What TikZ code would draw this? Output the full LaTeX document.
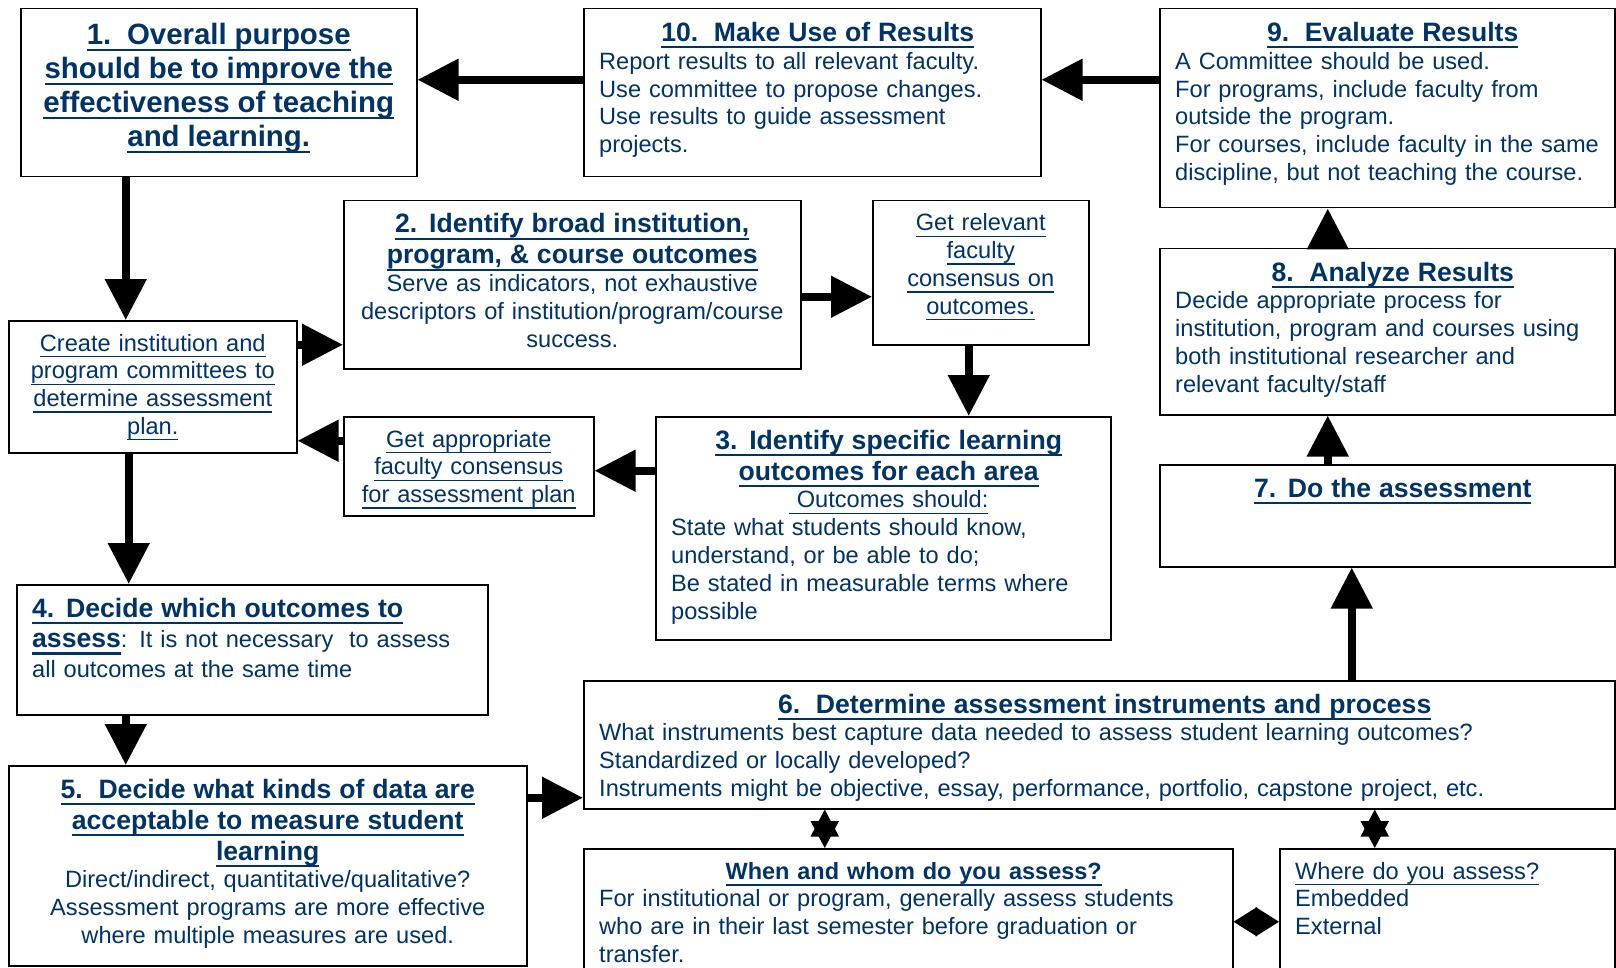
\documentclass[tikz,border=0pt]{standalone}
\usepackage{fontspec}
\setmainfont{Liberation Sans}
\usetikzlibrary{arrows.meta, positioning}
\definecolor{navy}{RGB}{0,51,102}
\newcommand{\hd}{\fontsize{26.6}{31}\selectfont\bfseries}
\newcommand{\hdbig}{\fontsize{29.4}{34}\selectfont\bfseries}
\newcommand{\hdsmall}{\fontsize{23.5}{27.8}\selectfont\bfseries}
% underlined text: depth, thickness, text
\newcommand{\undl}[3]{\leavevmode\setbox0=\hbox{#3}\rlap{\rule[-#1]{\wd0}{#2}}\box0}
\newcommand{\hu}[1]{\undl{6.8pt}{2.2pt}{#1}}
\newcommand{\bu}[1]{\undl{6pt}{1.3pt}{#1}}
\tikzstyle{box} = [draw, line width=1.5pt, rectangle, anchor=north west, inner sep=0pt]
\tikzstyle{txt} = [inner sep=0pt, anchor=base, align=center, text=navy, font=\fontsize{23.6}{27.8}\selectfont]
\tikzstyle{ltxt} = [txt, anchor=base west, align=left]
\tikzstyle{bigarrow} = [line width=8pt, -{Triangle[length=41pt,width=40pt]}]
\tikzstyle{twoway} = [line width=2pt, {Triangle[length=27pt,width=28pt]}-{Triangle[length=27pt,width=28pt]}]
\tikzstyle{sideway} = [line width=2pt, {Triangle[length=23.5pt,width=29pt]}-{Triangle[length=23.5pt,width=29pt]}]

\begin{document}
\begin{tikzpicture}[x=1pt, y=1pt]
    \fill[white] (0,0) rectangle (1616,-968);
    \useasboundingbox (0,0) rectangle (1616,-968);
    % boxes
    \node[box, minimum width=396pt, minimum height=168pt] (b1) at (20,-8) {};
    \node[box, minimum width=457pt, minimum height=168pt] (b10) at (583,-8) {};
    \node[box, minimum width=455pt, minimum height=199pt] (b9) at (1159,-8) {};
    \node[box, minimum width=457pt, minimum height=168pt] (b2) at (343,-200) {};
    \node[box, minimum width=216pt, minimum height=144pt] (rel) at (872,-200) {};
    \node[box, minimum width=455pt, minimum height=166pt] (b8) at (1159,-248) {};
    \node[box, minimum width=288pt, minimum height=132pt] (crt) at (8,-320) {};
    \node[box, minimum width=250pt, minimum height=99pt] (appr) at (343,-416) {};
    \node[box, minimum width=455pt, minimum height=223pt] (b3) at (655,-416) {};
    \node[box, minimum width=455pt, minimum height=102pt] (b7) at (1159,-464) {};
    \node[box, minimum width=471pt, minimum height=130pt] (b4) at (16,-584) {};
    \node[box, minimum width=1031pt, minimum height=128pt] (b6) at (583,-680) {};
    \node[box, minimum width=518pt, minimum height=200pt] (b5) at (8,-765) {};
    \node[box, minimum width=649pt, minimum height=140pt] (when) at (583,-848) {};
    \node[box, minimum width=335pt, minimum height=140pt] (where) at (1279,-848) {};
    % texts
    \node[txt, text width=380pt] (t1) at ([yshift=-36.5pt]b1.north)
        {\hdbig \hu{1.\ \ Overall purpose}\\ \hu{should be to improve the}\\
         \hu{effectiveness of teaching}\\ \hu{and learning.}\par};
    \node[ltxt, text width=437pt] (t10) at ([xshift=16pt, yshift=-33.5pt]b10.north west)
        {{\centering\hd \hu{10.\ \ Make Use of Results}\par}
         Report results to all relevant faculty.\\ Use committee to propose changes.\\
         Use results to guide assessment\\ projects.};
    \node[ltxt, text width=435pt] (t9) at ([xshift=16pt, yshift=-33.5pt]b9.north west)
        {{\centering\hd \hu{9.\ \ Evaluate Results}\par}
         A Committee should be used.\\ For programs, include faculty from\\
         outside the program.\\ For courses, include faculty in the same\\
         discipline, but not teaching the course.};
    \node[txt, text width=441pt] (t2) at ([yshift=-33pt]b2.north)
        {{\hd \hu{2. Identify broad institution,}\\ \hu{program, \& course outcomes}\par}
         Serve as indicators, not exhaustive\\ descriptors of institution/program/course\\ success.};
    \node[txt, text width=200pt] (trel) at ([yshift=-31pt]rel.north)
        {\bu{Get relevant}\\ \bu{faculty}\\ \bu{consensus on}\\ \bu{outcomes.}};
    \node[ltxt, text width=435pt] (t8) at ([xshift=16pt, yshift=-33pt]b8.north west)
        {{\centering\hd \hu{8.\ \ Analyze Results}\par}
         Decide appropriate process for\\ institution, program and courses using\\
         both institutional researcher and\\ relevant faculty/staff};
    \node[txt, text width=272pt] (tcrt) at ([yshift=-31pt]crt.north)
        {\bu{Create institution and}\\ \bu{program committees to}\\ \bu{determine assessment}\\ \bu{plan.}};
    \node[txt, text width=234pt] (tappr) at ([yshift=-31pt]appr.north)
        {\bu{Get appropriate}\\ \bu{faculty consensus}\\ \bu{for assessment plan}};
    \node[ltxt, text width=435pt] (t3) at ([xshift=16pt, yshift=-33pt]b3.north west)
        {{\centering\hd \hu{3. Identify specific learning}\\ \hu{outcomes for each area}\par}
         {\centering\bu{\ Outcomes should:}\par}
         State what students should know,\\ understand, or be able to do;\\
         Be stated in measurable terms where\\ possible};
    \node[ltxt, text width=435pt] (t7) at ([xshift=16pt, yshift=-33pt]b7.north west)
        {{\centering\hd \hu{7. Do the assessment}\par}};
    \node[ltxt, text width=451pt] (t4) at ([xshift=16pt, yshift=-33pt]b4.north west)
        {{\hd\hu{4. Decide which outcomes to}}\\[3pt]
         {\hd\hu{assess}}: It is not necessary\ \ to assess\\[1.5pt] all outcomes at the same time};
    \node[ltxt, text width=1011pt] (t6) at ([xshift=16pt, yshift=-33pt]b6.north west)
        {{\centering\hd \hu{6.\ \ Determine assessment instruments and process}\par}
         What instruments best capture data needed to assess student learning outcomes?\\
         Standardized or locally developed?\\
         Instruments might be objective, essay, performance, portfolio, capstone project, etc.};
    \node[txt, text width=502pt] (t5) at ([yshift=-33pt]b5.north)
        {{\hd \hu{5.\ \ Decide what kinds of data are}\\ \hu{acceptable to measure student}\\ \hu{learning}\par}
         Direct/indirect, quantitative/qualitative?\\ Assessment programs are more effective\\
         where multiple measures are used.};
    \node[ltxt, text width=629pt] (twhen) at ([xshift=16pt, yshift=-31pt]when.north west)
        {{\centering\hdsmall \hu{When and whom do you assess?}\par}
         For institutional or program, generally assess students\\
         who are in their last semester before graduation or\\ transfer.};
    \node[ltxt, text width=315pt] (twhere) at ([xshift=16pt, yshift=-31pt]where.north west)
        {\bu{Where do you assess?}\\ Embedded\\ External};
    % connectors
    \draw[bigarrow] ([yshift=13pt]b10.west) -- ([yshift=13pt]b1.east);
    \draw[bigarrow] ([yshift=28.5pt]b9.west) -- ([yshift=13pt]b10.east);
    \draw[bigarrow] ([xshift=-93pt]b1.south) -- ([xshift=-27pt]crt.north);
    \draw[bigarrow] ([yshift=42pt]crt.east) -- ([yshift=-60pt]b2.west);
    \draw[bigarrow] ([yshift=-12pt]b2.east) -- ([yshift=-24pt]rel.west);
    \draw[bigarrow] ([xshift=-12pt]rel.south) -- ([xshift=85.5pt]b3.north);
    \draw[bigarrow] ([yshift=57.5pt]b3.west) -- ([yshift=-4.5pt]appr.east);
    \draw[bigarrow] ([yshift=25.5pt]appr.west) -- ([yshift=-54pt]crt.east);
    \draw[bigarrow] ([xshift=-24pt]crt.south) -- ([xshift=-123.5pt]b4.north);
    \draw[bigarrow] ([xshift=-126.5pt]b4.south) -- ([xshift=-142pt]b5.north);
    \draw[bigarrow] ([yshift=68pt]b5.east) -- ([yshift=-53pt]b6.west);
    \draw[bigarrow] ([xshift=252.5pt]b6.north) -- ([xshift=-35.5pt]b7.south);
    \draw[bigarrow] ([xshift=-59.5pt]b7.north) -- ([xshift=-59.5pt]b8.south);
    \draw[bigarrow] ([xshift=-59.5pt]b8.north) -- ([xshift=-59.5pt]b9.south);
    \draw[twoway] ([xshift=-274.5pt]b6.south) -- ([xshift=-83.5pt]when.north);
    \draw[twoway] ([xshift=275.5pt]b6.south) -- ([xshift=-72.5pt]where.north);
    \draw[sideway] ([yshift=-3pt]when.east) -- ([yshift=-3pt]where.west);
\end{tikzpicture}
\end{document}
